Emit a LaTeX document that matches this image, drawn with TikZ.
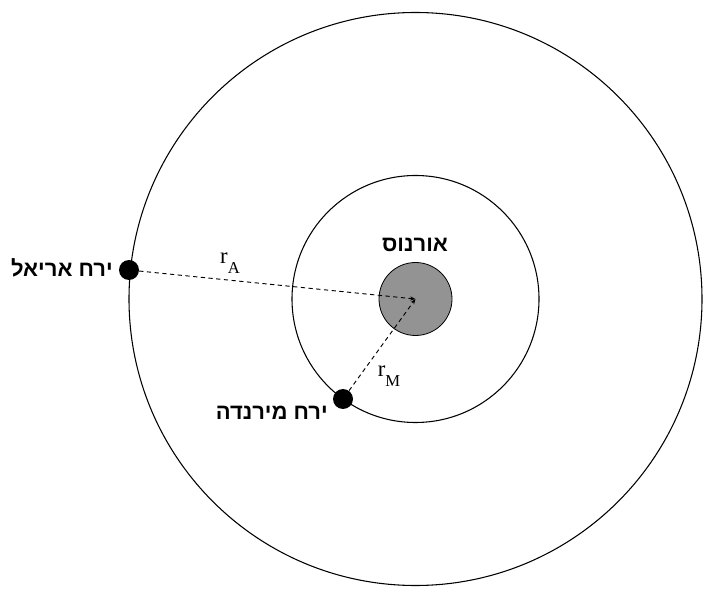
\documentclass[tikz,border=0pt]{standalone}
\usepackage{fontspec}
\setmainfont{Liberation Serif}
\newfontfamily\hebfont[Script=Hebrew]{Liberation Sans}
\TeXXeTstate=1
\usepackage{tikz}
\usetikzlibrary{arrows.meta}

\tikzset{
  orbit/.style={draw, line width=0.8pt},
  moon/.style={circle, fill=black, inner sep=0pt, minimum size=15pt},
  heblabel/.style={inner sep=0.75pt, font=\hebfont\bfseries\fontsize{16.5}{18}\selectfont},
  radius label/.style={inner sep=0.75pt, font=\fontsize{17}{19}\selectfont},
  radius line/.style={dashed, dash pattern=on 3.2pt off 2.6pt, line width=0.7pt, -{Stealth[length=4pt,width=3pt]}}
}
\newcommand{\subA}[1]{r\raisebox{-0.42em}{\fontsize{12.5}{14}\selectfont #1}}

\begin{document}
\begin{tikzpicture}[x=0.75pt,y=0.75pt,yscale=-1,xscale=1]
\useasboundingbox (0,0) rectangle (714,598);

% orbits
\coordinate (center) at (415.5,299);
\draw [orbit] (center) circle [radius=286.5];
\draw [orbit] (center) circle [radius=123.5];

% planet
\node [circle, draw, line width=0.6pt, fill={rgb, 255:red, 147; green, 147; blue, 147 }, minimum size=54.75pt, inner sep=0pt] (uranus) at (center) {};

% moons
\node [moon] (ariel) at (129,270) {};
\node [moon] (miranda) at (343,399) {};

% radii
\draw [radius line] (ariel) -- (center);
\draw [radius line] (miranda) -- (center);

% Text Node
\node [heblabel, anchor=east] (ariel label) at (114,268) {\beginR ירח אריאל\endR};
% Text Node
\node [heblabel, anchor=east] (miranda label) at (329,413) {\beginR ירח מירנדה\endR};
% Text Node
\node [heblabel] (uranus label) at (415,245) {\beginR אורנוס\endR};
% Text Node
\node [radius label] (rA) at (230,263) {\subA{A}};
% Text Node
\node [radius label] (rM) at (389,376) {\subA{M}};

\end{tikzpicture}
\end{document}
